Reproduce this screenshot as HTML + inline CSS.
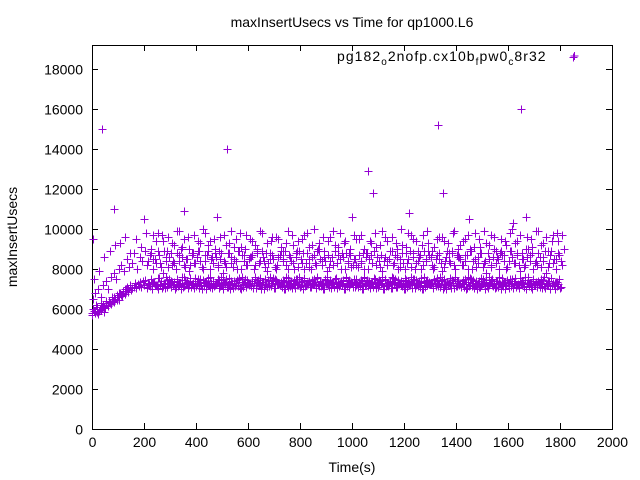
<!DOCTYPE html>
<html><head><meta charset="utf-8"><style>
body{margin:0;background:#fff}
svg{display:block;font-family:"Liberation Sans",sans-serif}
</style></head><body>
<svg id="chart" width="640" height="480" viewBox="0 0 640 480" xmlns="http://www.w3.org/2000/svg">
<rect width="640" height="480" fill="#fff"/>
<text x="352" y="27" font-size="14" text-anchor="middle">maxInsertUsecs vs Time for qp1000.L6</text>
<text transform="translate(17,237) rotate(-90)" font-size="14" text-anchor="middle">maxInsertUsecs</text>
<text x="352" y="472" font-size="14" text-anchor="middle">Time(s)</text>
<g id="axes"></g>
<g id="marks"></g>
<text x="337" y="61" font-size="14" letter-spacing="1.05">pg182<tspan font-size="10" dy="4">o</tspan><tspan dy="-4">2nofp.cx10b</tspan><tspan font-size="10" dy="4">f</tspan><tspan dy="-4">pw0</tspan><tspan font-size="10" dy="4">c</tspan><tspan dy="-4">8r32</tspan></text>
<path d="M570.5 56h8M574.5 52v8" stroke="#9400d3" stroke-width="1" shape-rendering="crispEdges"/>
</svg>
<script>
const xTicks=[0,200,400,600,800,1000,1200,1400,1600,1800,2000];
const yTicks=[0,2000,4000,6000,8000,10000,12000,14000,16000,18000];
const bandStart=0, bandStep=10;
const band1=[5800,5900,5850,6000,6100,6050,6200,6300,6400,6500,6600,
6700,6800,6900,7000,6950,7100,7050,7150,7100,7200,
7100,7250,7000,7300,7150,7200,7050,7300,7100,7250,
7200,7000,7150,7300,7100,7250,7050,7200,7300,7150,
7050,7200,7300,7000,7250,7100,7150,7300,7050,7200,
7300,7100,7000,7250,7150,7200,7050,7100,7300,7250,
7150,7050,7200,7300,7000,7100,7250,7200,7150,7050,
7250,7300,7100,7000,7200,7150,7050,7300,7200,7100,
7000,7150,7250,7100,7300,7050,7200,7150,7000,7250,
7200,7050,7100,7300,7150,7250,7000,7200,7100,7300,
7100,7250,7150,7000,7200,7300,7050,7150,7250,7100,
7300,7000,7200,7150,7050,7250,7100,7300,7200,7000,
7150,7200,7050,7250,7300,7100,7000,7150,7200,7250,
7050,7300,7150,7100,7000,7200,7250,7050,7300,7150,
7200,7100,7250,7000,7150,7300,7050,7200,7100,7250,
7000,7150,7300,7200,7050,7100,7250,7150,7000,7300,
7250,7050,7100,7200,7300,7150,7000,7250,7100,7200,
7100,7300,7050,7150,7250,7000,7200,7300,7150,7050];
const band2=[6000,6200,5900,6300,6100,6400,6350,6500,6600,6450,
6800,6700,7000,7100,7200,7050,7300,7250,7350,7400,
7450,7300,7500,7350,7200,7550,7400,7300,7600,7250,
7400,7350,7500,7200,7450,7600,7300,7400,7250,7550,
7300,7500,7450,7350,7200,7600,7400,7300,7500,7250,
7450,7350,7550,7400,7300,7200,7500,7600,7350,7450,
7250,7400,7500,7300,7550,7350,7200,7450,7600,7400,
7500,7300,7250,7450,7350,7550,7400,7200,7500,7600,
7350,7450,7300,7400,7250,7500,7550,7350,7200,7450,
7600,7400,7300,7500,7350,7250,7450,7550,7400,7300,
7200,7500,7350,7450,7600,7300,7400,7250,7550,7350,
7450,7300,7500,7200,7400,7600,7350,7450,7300,7250,
7550,7400,7350,7500,7450,7200,7300,7600,7400,7350,
7250,7450,7550,7300,7400,7500,7350,7200,7450,7600,
7400,7300,7250,7500,7350,7550,7450,7400,7300,7200,
7500,7350,7600,7450,7250,7400,7300,7550,7350,7450,
7300,7500,7400,7200,7550,7350,7450,7600,7300,7400,
7250,7350,7500,7450,7300,7400,7550,7200,7350,7500];
const early=[5700,5900,5800,6100,5750,6000,5950,6200,5850,6300,6150,6400,6250,6600,6350,6500,6700,6450,6800,6650,6900,6750,7000,6850];
const earlyStep=6;
const mid=[6500,6800,7000,6600,7200,7400,7000,7600,7800,7500,8000,
8200,7900,8500,8100,8300,8800,8000,8600,8400,8900,
8200,8700,8000,8500,8900,8300,7800,8600,8100,8800,
8400,8000,8700,9000,8200,8500,7900,8800,8300,8600,
8900,8100,8400,8700,8000,8600,9000,8200,8500,7800,
8300,8800,8600,8100,8400,8900,8000,8700,8200,8500,
8600,8000,8800,8300,8900,8400,7900,8500,8700,8100,
8200,8700,8400,8900,8000,8600,8300,8800,8100,8500,
8800,8300,8500,8000,8700,8200,8900,8400,8600,7900,
8100,8600,8900,8300,8500,8800,8000,8400,8700,8200,
8500,8100,8300,8800,8600,8000,8700,8900,8200,8400,
8700,8400,8200,8500,8900,8300,8600,8100,8800,8000,
8300,8900,8600,8000,8400,8700,8200,8500,8900,8600,
8000,8500,8800,8300,8100,8600,8400,8900,8200,8700,
8600,8200,8400,8700,8900,8000,8500,8300,8800,8100,
8400,8800,8100,8600,8300,8500,8900,8700,8000,8400,
8900,8300,8700,8200,8500,8100,8600,8400,8800,8300,
8200,8600,8400,8900,8100,8700,8300,8500,8800,8400];
const highStep=20;
const high=[7500,7900,8600,8900,9200,9300,9600,8800,9500,9100,
9800,9000,9400,9700,8900,9300,9900,9100,9600,8800,
9400,10000,9200,9500,8900,9700,9300,9100,9800,9000,
9500,9200,9900,8800,9400,9600,9100,9300,9700,8900,
9500,9800,9200,9000,9600,9400,9900,9100,9300,8800,
9700,9500,9000,9400,9800,9200,9600,8900,9300,10000,
9100,9700,9400,9200,9900,8900,9500,9600,9300,9800,
9000,9400,9700,9100,9500,9900,9200,9600,8800,9400,
9800,9300,9700,9000,9500,9900,9200,9600,9400,9800,9700];
const outT=[5,40,85,200,355,480,520,1000,1060,1080,1220,1330,1350,1450,1620,1650,1670,1850];
const outV=[9500,15000,11000,10500,10900,10600,14000,10600,12900,11800,10800,15200,11800,10500,10300,16000,10600,18600];
const X0=92,X1=612,Y0=429,Y1=45;
const xs=v=>X0+(v/2000)*(X1-X0);
const ys=v=>Y0-(v/19200)*(Y0-Y1);
const NS="http://www.w3.org/2000/svg";
const axes=document.getElementById('axes');
const frame=document.createElementNS(NS,'path');
frame.setAttribute('d',`M${X0+0.5} ${Y1+0.5}H${X1+0.5}V${Y0+0.5}H${X0+0.5}Z`);frame.setAttribute('fill','none');frame.setAttribute('stroke','#000');


axes.appendChild(frame);
let td='';
xTicks.forEach(t=>{const x=Math.round(xs(t))+0.5;td+=`M${x} ${Y0}v-6M${x} ${Y1}v6`;
 const tx=document.createElementNS(NS,'text');tx.setAttribute('x',x);tx.setAttribute('y',Y0+18);tx.setAttribute('font-size','14');tx.setAttribute('text-anchor','middle');tx.textContent=t;
 
 
 axes.appendChild(tx);});
yTicks.forEach(t=>{const y=Math.round(ys(t))+0.5;td+=`M${X0} ${y}h6M${X1} ${y}h-6`;
 const tx=document.createElementNS(NS,'text');tx.setAttribute('x',X0-9);tx.setAttribute('y',y+5);tx.setAttribute('font-size','14');tx.setAttribute('text-anchor','end');tx.textContent=t;
 
 
 axes.appendChild(tx);});
const tp=document.createElementNS(NS,'path');tp.setAttribute('d',td);tp.setAttribute('stroke','#000');


axes.appendChild(tp);
let pd='';
const plus=(t,v)=>{const x=Math.round(xs(t))+0.5,y=Math.round(ys(v))+0.5;pd+=`M${x-4} ${y}h8M${x} ${y-4}v8`;};
band1.forEach((v,i)=>plus(bandStart+i*bandStep,v));
band2.forEach((v,i)=>plus(bandStart+5+i*bandStep,v));
band1.slice(21).reverse().forEach((v,i)=>plus(bandStart+212+i*bandStep,v));
band2.slice(22).reverse().forEach((v,i)=>plus(bandStart+227+i*bandStep,v));
early.forEach((v,i)=>plus(bandStart+i*earlyStep,v));
mid.forEach((v,i)=>plus(bandStart+3+i*bandStep,v));
mid.slice(21).reverse().forEach((v,i)=>plus(bandStart+216+i*bandStep,v));
high.forEach((v,i)=>plus(bandStart+8+i*highStep,v));
high.slice(11).reverse().forEach((v,i)=>plus(bandStart+234+i*highStep,v));
outT.forEach((t,i)=>plus(t,outV[i]));
const mp=document.createElementNS(NS,'path');mp.setAttribute('d',pd);mp.setAttribute('stroke','#9400d3');mp.setAttribute('fill','none');mp.setAttribute('shape-rendering','crispEdges');


document.getElementById('marks').appendChild(mp);
</script>
</body></html>
